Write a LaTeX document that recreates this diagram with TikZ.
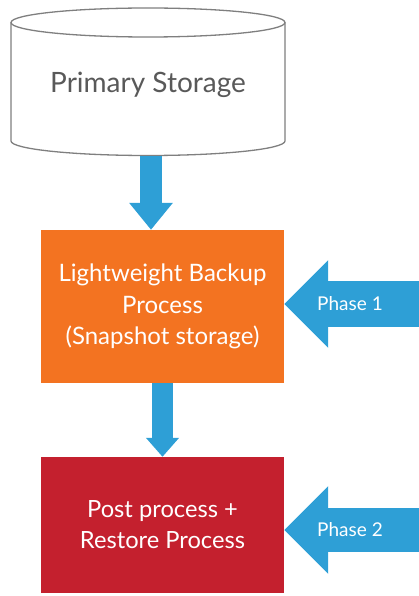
\documentclass[tikz,border=0pt]{standalone}
\usepackage{fontspec}
\setmainfont{Lato}
\usetikzlibrary{arrows.meta}
\definecolor{boxorange}{HTML}{F37321}
\definecolor{boxred}{HTML}{C4202E}
\definecolor{arrowblue}{HTML}{2E9FD6}
\definecolor{textgray}{HTML}{595959}
\definecolor{edgegray}{HTML}{7F7F7F}
\tikzset{
  procbox/.style={rectangle, minimum width=243pt, text=white, align=center, inner sep=0pt},
  downarrow/.style={draw=arrowblue, -{Triangle[width=42pt,length=27pt]}, fill=arrowblue, line width=22pt},
  phasearrow/.style={draw=arrowblue, -{Triangle[width=85pt,length=44pt]}, line width=46pt},
  phasetext/.style={text=white, font=\fontsize{19}{22}\selectfont},
}
\begin{document}
\begin{tikzpicture}[x=1pt,y=-1pt]
\useasboundingbox (0,0) rectangle (419,596);
% cylinder
\path[fill=white, draw=edgegray, line width=1.3pt]
  (11,22.5) -- (11,141) arc[start angle=180, end angle=0, x radius=137, y radius=14.5] -- (285,22.5);
\draw[edgegray, line width=1.3pt, fill=white] (148,22.5) ellipse[x radius=137, y radius=14.5];
\node[text=textgray, font=\fontsize{28}{30}\selectfont] (storage) at (148,85) {Primary Storage};
\coordinate (storebottom) at (151,156);
% boxes
\node[procbox, fill=boxorange, minimum height=153pt, font=\fontsize{24}{31.5}\selectfont] (proc) at (162.5,306.5)
  {Lightweight Backup\\Process\\(Snapshot storage)};
\node[procbox, fill=boxred, minimum height=136pt, font=\fontsize{23.7}{31}\selectfont] (post) at (162.5,525)
  {Post process +\\Restore Process};
% vertical arrows
\draw[downarrow] (storebottom) -- (storebottom |- proc.north);
\draw[draw=arrowblue, -{Triangle[width=32pt,length=19pt]}, line width=21pt] (proc.south) -- (post.north);
% phase arrows
\coordinate (p1) at (425,304);
\coordinate (p2) at (425,530);
\draw[phasearrow] (p1) -- (p1 -| proc.east);
\draw[phasearrow, line width=44pt] (p2) -- (p2 -| post.east);
\node[phasetext] (ph1) at (350,304) {Phase 1};
\node[phasetext] (ph2) at (350,530) {Phase 2};
\end{tikzpicture}
\end{document}
